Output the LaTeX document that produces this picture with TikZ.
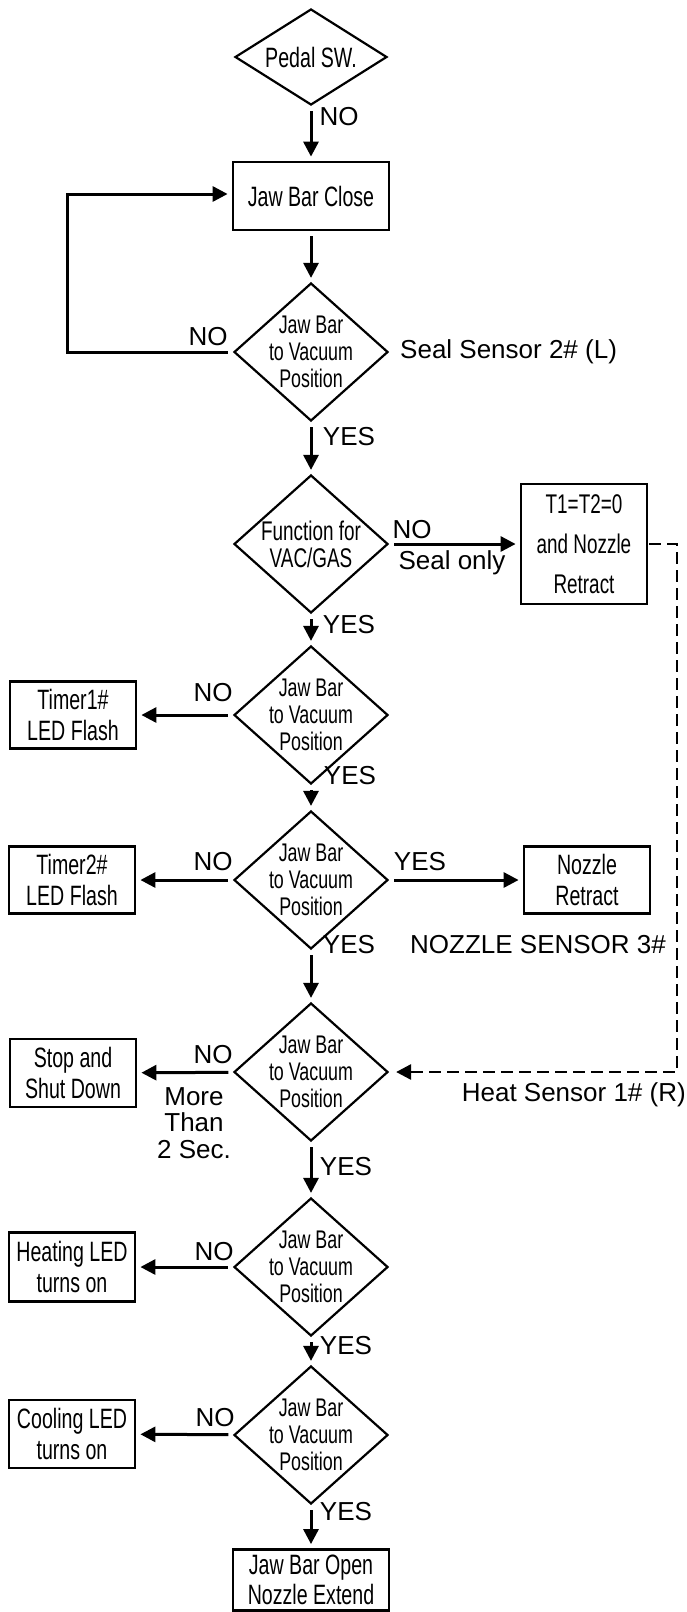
\documentclass[tikz,border=0pt]{standalone}
\usepackage{fontspec}
\setmainfont{Liberation Sans}
\newfontfamily\narrowfont[FakeStretch=0.7]{Liberation Sans}
\usetikzlibrary{shapes.geometric,arrows.meta}

\begin{document}
\begin{tikzpicture}[x=1pt, y=-1pt,
    flowbox/.style={rectangle, draw, line width=2.8pt, minimum width=126pt,
        minimum height=67pt, inner sep=0pt, align=center,
        font=\narrowfont\fontsize{28}{30.5}\selectfont},
    decision/.style={diamond, draw, line width=2.2pt, minimum width=154pt,
        minimum height=138pt, inner sep=-20pt, align=center,
        font=\narrowfont\fontsize{25.5}{26.7}\selectfont},
    flow/.style={line width=3pt, -{Triangle[length=15pt,width=15pt]},
        shorten <=5pt, shorten >=4pt},
    sensorline/.style={flow, line width=2.8pt, dash pattern=on 12pt off 6pt,
        shorten <=1pt, shorten >=7pt},
    flowlabel/.style={inner sep=0pt, align=center,
        font=\fontsize{26}{26.5}\selectfont}]
    \useasboundingbox (0,0) rectangle (687,1612);

    % main column
    \node[decision, minimum width=152pt, minimum height=96pt,
        font=\narrowfont\fontsize{28}{30}\selectfont] (pedal) at (311,57) {Pedal SW.};
    \node[flowbox, minimum width=156pt, minimum height=68pt] (close) at (311,196) {Jaw Bar Close};
    \node[decision] (check1) at (311,352) {Jaw Bar\\to Vacuum\\Position};
    \node[decision, font=\narrowfont\fontsize{27}{27}\selectfont] (func) at (311,544) {Function for\\VAC/GAS};
    \node[decision] (check2) at (311,715) {Jaw Bar\\to Vacuum\\Position};
    \node[decision] (check3) at (311,880) {Jaw Bar\\to Vacuum\\Position};
    \node[decision] (check4) at (311,1072) {Jaw Bar\\to Vacuum\\Position};
    \node[decision] (check5) at (311,1267) {Jaw Bar\\to Vacuum\\Position};
    \node[decision] (check6) at (311,1435) {Jaw Bar\\to Vacuum\\Position};
    \node[flowbox, minimum width=156pt, minimum height=61pt] (open) at (311,1580) {Jaw Bar Open\\Nozzle Extend};

    % side boxes
    \node[flowbox, minimum height=120pt, font=\narrowfont\fontsize{27}{40}\selectfont] (zero) at (584,544) {T1=T2=0\\and Nozzle\\Retract};
    \node[flowbox] (timer1) at (73,715) {Timer1\#\\LED Flash};
    \node[flowbox] (timer2) at (72,880) {Timer2\#\\LED Flash};
    \node[flowbox] (retract) at (587,880) {Nozzle\\Retract};
    \node[flowbox, minimum height=68pt] (stop) at (73,1073) {Stop and\\Shut Down};
    \node[flowbox, minimum height=69pt] (heat) at (72,1267) {Heating LED\\turns on};
    \node[flowbox, minimum height=68pt] (cool) at (72,1434) {Cooling LED\\turns on};

    \coordinate (loopL) at (67,194);
    \coordinate (sensorR) at (677,1072);

    % connectors
    \draw[flow] (pedal) -- (close);
    \draw[flow] (close) -- (check1);
    \draw[flow] (check1.west) -| (loopL) -- (close.west |- loopL);
    \draw[flow] (check1) -- (func);
    \draw[flow] (func) -- (zero);
    \draw[flow] (func) -- (check2);
    \draw[flow] (check2) -- (timer1);
    \draw[flow] (check2) -- (check3);
    \draw[flow] (check3) -- (timer2);
    \draw[flow] (check3) -- (retract);
    \draw[flow] (check3) -- (check4);
    \draw[sensorline] (zero.east) -| (sensorR) -- (check4.east);
    \draw[flow] (check4) -- (stop);
    \draw[flow] (check4) -- (check5);
    \draw[flow] (check5) -- (heat);
    \draw[flow] (check5) -- (check6);
    \draw[flow] (check6) -- (cool);
    \draw[flow] (check6) -- (open);

    % labels
    \node[flowlabel] (lPedal) at (339,117) {NO};
    \node[flowlabel] (lLoop) at (208,337) {NO};
    \node[flowlabel, anchor=west] (lSeal) at (400,352) {Seal Sensor 2\# (L)};
    \node[flowlabel] (lYes1) at (349,437) {YES};
    \node[flowlabel] (lFuncNo) at (412,530) {NO};
    \node[flowlabel] (lSealOnly) at (452,563) {Seal only};
    \node[flowlabel] (lYes2) at (349,625) {YES};
    \node[flowlabel] (lNo2) at (213,693) {NO};
    \node[flowlabel] (lYes3) at (350,776) {YES};
    \node[flowlabel] (lNo3) at (213,862) {NO};
    \node[flowlabel] (lYesR) at (420,862) {YES};
    \node[flowlabel] (lYes4) at (349,945) {YES};
    \node[flowlabel] (lNozzle) at (538,945) {NOZZLE SENSOR 3\#};
    \node[flowlabel] (lNo4) at (213,1055) {NO};
    \node[flowlabel] (lMore) at (194,1123) {More\\Than\\2 Sec.};
    \node[flowlabel, anchor=east] (lHeat) at (686,1095) {Heat Sensor 1\# (R)};
    \node[flowlabel] (lYes5) at (346,1167) {YES};
    \node[flowlabel] (lNo5) at (214,1252) {NO};
    \node[flowlabel] (lYes6) at (346,1346) {YES};
    \node[flowlabel] (lNo6) at (215,1418) {NO};
    \node[flowlabel] (lYes7) at (346,1512) {YES};
\end{tikzpicture}
\end{document}
